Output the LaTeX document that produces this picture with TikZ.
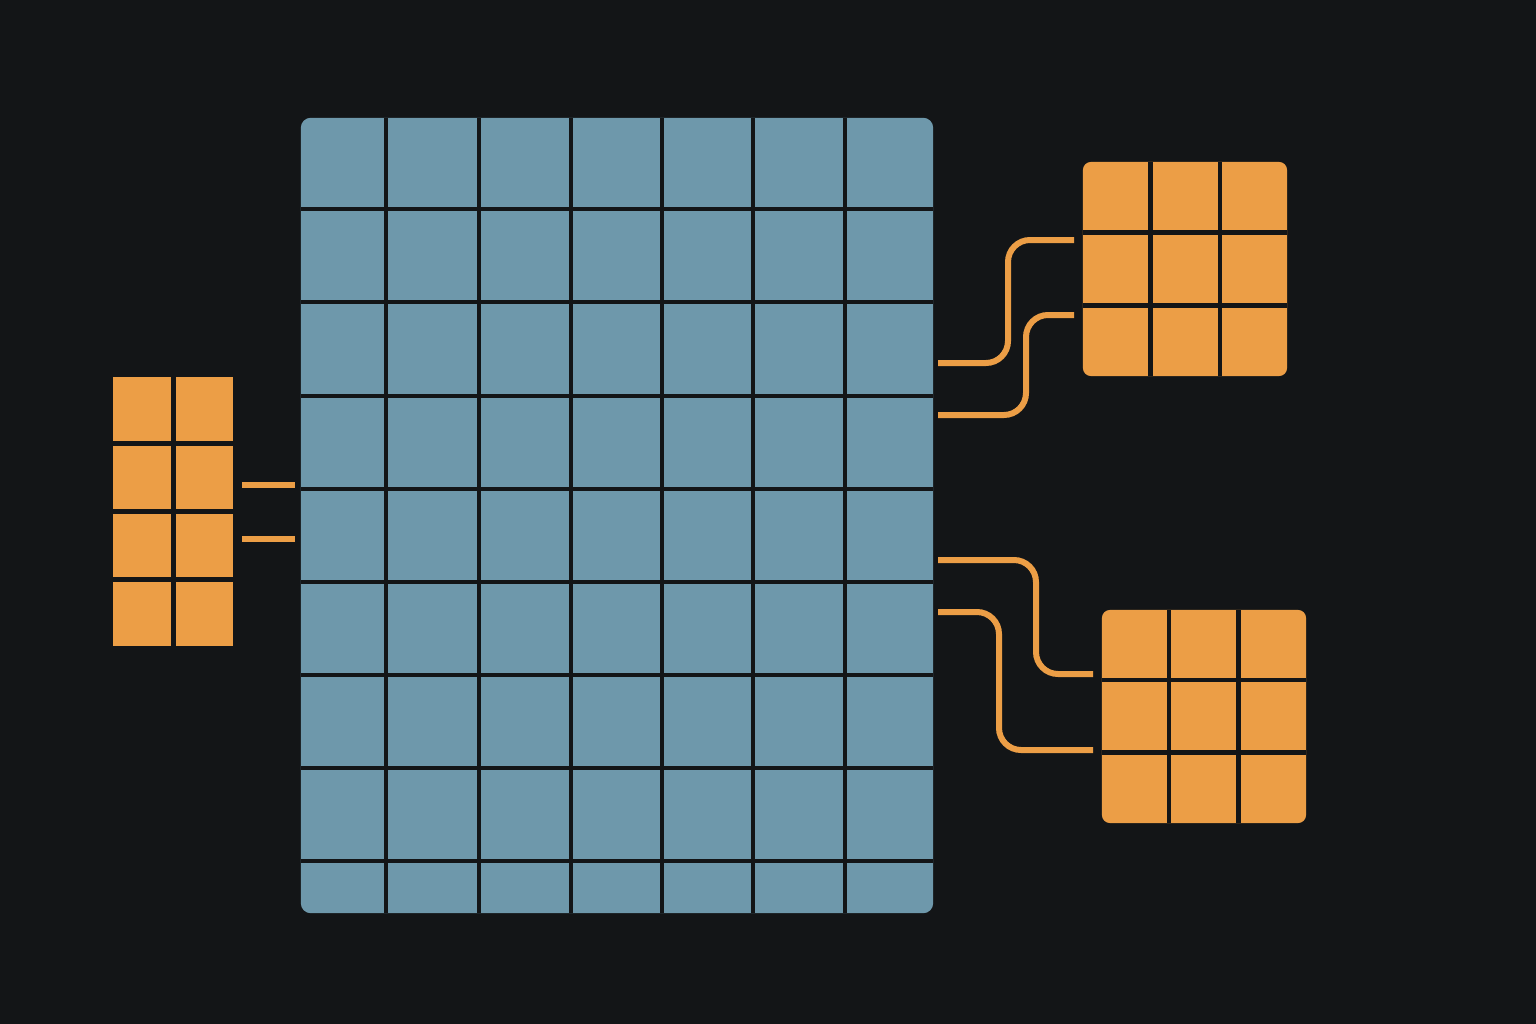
\documentclass[tikz,border=0pt]{standalone}
\usepackage{xcolor}
\usepackage{tikz}

\definecolor{bgdark}{RGB}{19,21,23}
\definecolor{cellblue}{RGB}{110,152,171}
\definecolor{cellorange}{RGB}{236,158,70}

\tikzset{
  board/.style={fill=cellblue, rounded corners=0.1cm, inner sep=0pt},
  block/.style={fill=cellorange, rounded corners=0.08cm, inner sep=0pt},
  cut/.style={draw=bgdark, line width=0.045cm},
  wire/.style={draw=cellorange, line width=0.06cm, rounded corners=0.22cm}
}

\begin{document}
\begin{tikzpicture}[x=0.01cm, y=-0.01cm]
  \fill[bgdark] (0,0) rectangle (1536,1024);
  \useasboundingbox (0,0) rectangle (1536,1024);

  % main grid
  \node[board, minimum width=6.32cm, minimum height=7.95cm] (main) at (617,515.5) {};
  \foreach \x in {386,479,571,662,753,845}
    \draw[cut] (\x,118) -- (\x,913);
  \foreach \y in {209,302,396,489,582,675,768,861}
    \draw[cut] (301,\y) -- (933,\y);

  % left block
  \node[block, rounded corners=0pt, minimum width=1.2cm, minimum height=2.69cm] (left) at (173,511.5) {};
  \draw[cut] (173.5,377) -- (173.5,646);
  \foreach \y in {443.5,511.5,579.5}
    \draw[cut] (113,\y) -- (233,\y);

  % top right block
  \node[block, minimum width=2.04cm, minimum height=2.14cm] (topr) at (1185,269) {};
  \foreach \x in {1150.5,1220}
    \draw[cut] (\x,162) -- (\x,376);
  \foreach \y in {232.5,305.5}
    \draw[cut] (1083,\y) -- (1287,\y);

  % bottom right block
  \node[block, minimum width=2.04cm, minimum height=2.13cm] (botr) at (1204,716.5) {};
  \foreach \x in {1169,1238.5}
    \draw[cut] (\x,610) -- (\x,823);
  \foreach \y in {680,752.5}
    \draw[cut] (1102,\y) -- (1306,\y);

  % wire ends
  \coordinate (l1a) at (242,485);   \coordinate (l1b) at (295,485);
  \coordinate (l2a) at (242,539);   \coordinate (l2b) at (295,539);
  \coordinate (t1a) at (938,363);   \coordinate (t1b) at (1074,240);
  \coordinate (t2a) at (938,415);   \coordinate (t2b) at (1074,315);
  \coordinate (b1a) at (938,560);   \coordinate (b1b) at (1093,674);
  \coordinate (b2a) at (938,612);   \coordinate (b2b) at (1093,750);

  % wires
  \draw[wire] (l1a) -- (l1b);
  \draw[wire] (l2a) -- (l2b);
  \draw[wire] (t1a) -- ++(70,0) |- (t1b);
  \draw[wire] (t2a) -- ++(88,0) |- (t2b);
  \draw[wire] (b1a) -- ++(98,0) |- (b1b);
  \draw[wire] (b2a) -- ++(61,0) |- (b2b);
\end{tikzpicture}
\end{document}
